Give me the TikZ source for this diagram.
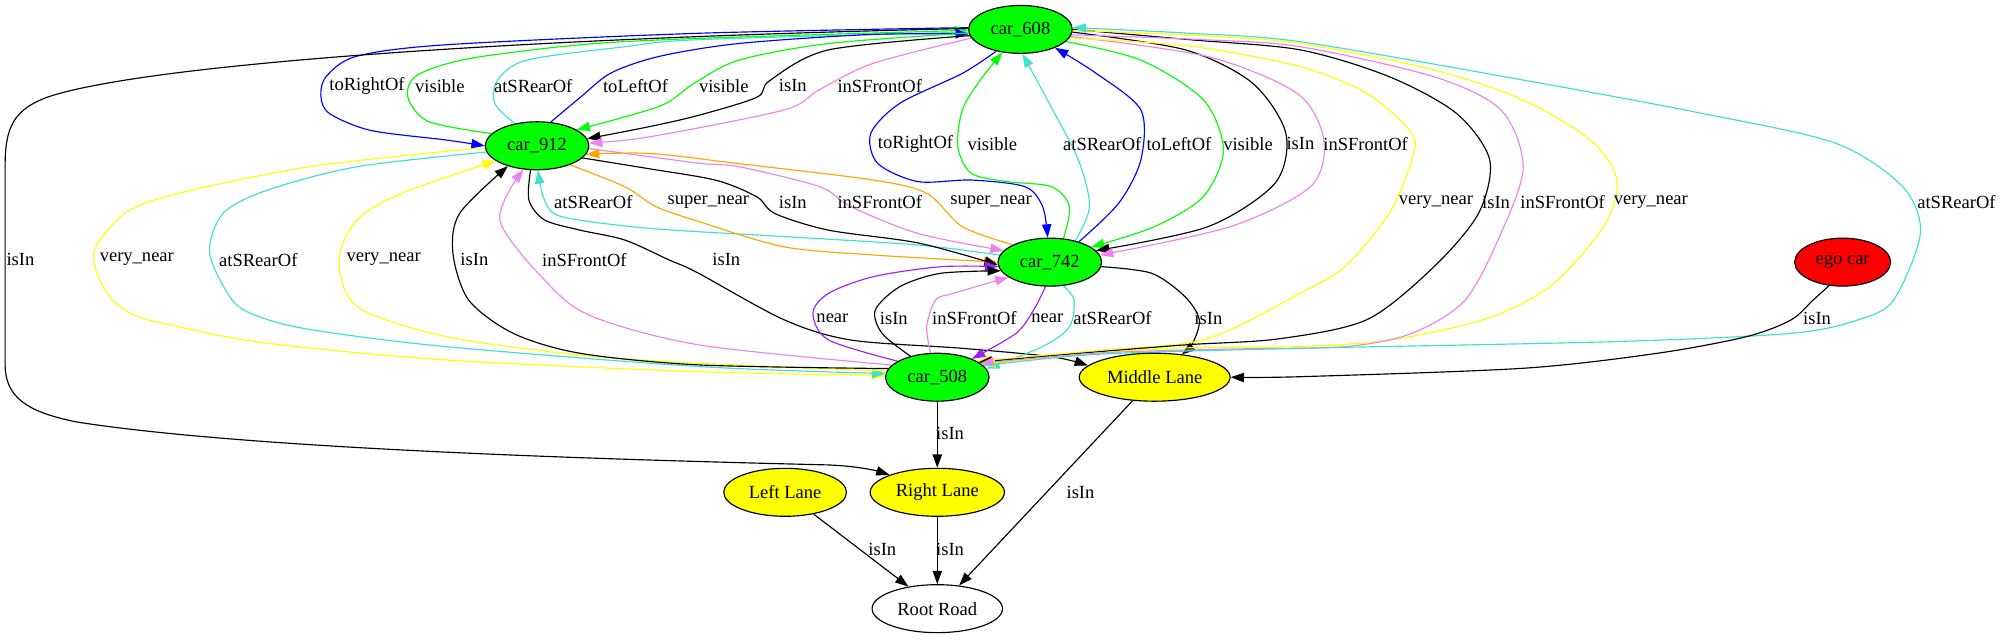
\documentclass[tikz,border=0pt]{standalone}
\usepackage{fontspec}
\setmainfont{Liberation Serif}
\usetikzlibrary{shapes.geometric,arrows.meta}
\pgfdeclarelayer{edgelayer}
\pgfsetlayers{edgelayer,main}
\definecolor{gvgreen}{HTML}{00FF00}
\definecolor{gvyellow}{HTML}{FFFF00}
\definecolor{gvblue}{HTML}{0000FF}
\definecolor{gvturq}{HTML}{40E0D0}
\definecolor{gvviolet}{HTML}{EE82EE}
\definecolor{gvorange}{HTML}{FFA500}
\definecolor{gvpurple}{HTML}{A020F0}
\definecolor{gvred}{HTML}{FF0000}
\newcommand\gvfont{\fontsize{14.5}{17}\selectfont}
\begin{document}
\begin{tikzpicture}[x=1pt,y=-1pt,
  gnode/.style={draw=black, line width=0.9pt, ellipse, minimum height=37.5pt, inner sep=0pt, font=\gvfont},
  car/.style={gnode, fill=gvgreen, minimum width=81pt},
  lane/.style={gnode, fill=gvyellow},
  gvedge/.style={line width=0.9pt, -{Triangle[length=10.4pt,width=7.3pt]}},
  lab/.style={font=\gvfont, inner sep=0pt}]
\useasboundingbox (0,0) rectangle (1568,500);
% nodes
\node[car] (c608) at (798,23) {car\_608};
\node[car] (c912) at (420,114) {car\_912};
\node[car] (c742) at (821,205) {car\_742};
\node[car] (c508) at (733,295) {car\_508};
\node[lane, minimum width=118pt] (ML) at (903,295) {Middle Lane};
\node[gnode, fill=gvred, minimum width=75pt] (ego) at (1441,205) {ego car};
\node[lane, minimum width=96pt] (LL) at (614,385) {Left Lane};
\node[lane, minimum width=105pt] (RL) at (733,385) {Right Lane};
\node[gnode, fill=white, minimum width=102pt] (RR) at (733,476) {Root Road};
\begin{pgfonlayer}{edgelayer}
\fill[white] (0,0) rectangle (1568,500);
% car_608 <-> car_912
\draw[gvedge,gvblue] plot[smooth,tension=0.5] coordinates {(c608.178) (547,26) (349,35) (279,44) (255,60) (251,76) (258,89) (290,102) (349,109.5) (c912.180)};
\draw[gvedge,gvgreen] plot[smooth,tension=0.5] coordinates {(c912.165) (335,95) (319,76) (326,59) (366,46) (454,35) (547,30) (c608.181)};
\draw[gvedge,gvturq] plot[smooth,tension=0.5] coordinates {(c912.135) (387,81) (389,63) (412,47) (489,36.5) (547,31) (c608.183)};
\draw[gvedge,gvblue] plot[smooth,tension=0.5] coordinates {(c912.60) (454,76) (478,57) (516,44) (578,34) (680,27) (c608.185)};
\draw[gvedge,gvgreen] plot[smooth,tension=0.5] coordinates {(c608.184) (648,34) (578,47) (543,65) (516,83) (c912.22)};
\draw[gvedge,black] plot[smooth,tension=0.5] coordinates {(c608.187) (648,39) (602,63) (592,76) (547,90) (508,99) (c912.8)};
\draw[gvedge,gvviolet] plot[smooth,tension=0.5] coordinates {(c608.190) (683,49.5) (641,70) (613,86) (508,107) (c912.3)};
% car_608 <-> car_742
\draw[gvedge,gvblue] plot[smooth,tension=0.5] coordinates {(c608.222) (752.6,57.4) (703.7,80.8) (681,104.3) (686.3,127.7) (717.7,142) (759.6,140.8) (801.5,146) (815.4,161.6) (c742.95)};
\draw[gvedge,gvgreen] plot[smooth,tension=0.5] coordinates {(c742.60) (836.4,161.6) (822.4,146) (787.5,142) (759.6,135.6) (749,114.7) (752.6,86) (766.6,62.6) (c608.232)};
\draw[gvedge,gvturq] plot[smooth,tension=0.5] coordinates {(c742.40) (852,161.6) (843.3,125) (819,78) (805,52) (c608.275)};
\draw[gvedge,gvblue] plot[smooth,tension=0.5] coordinates {(c742.35) (874.8,159) (892.2,125) (892.2,86) (857.3,57.4) (c608.332)};
\draw[gvedge,gvgreen] plot[smooth,tension=0.5] coordinates {(c608.345) (892.2,47) (941,78) (956.8,117.3) (941,153.8) (902.7,177.3) (c742.20)};
\draw[gvedge,black] plot[smooth,tension=0.5] coordinates {(c608.357) (927,39) (979.5,65) (1005.6,104.3) (997,143.4) (944.6,177.3) (c742.14)};
\draw[gvedge,gvviolet] plot[smooth,tension=0.5] coordinates {(c608.352) (944.6,44.3) (1014.4,73) (1035.3,109.5) (1024.8,146) (962,177.3) (c742.8)};
% car_912 <-> car_742, car_912 -> Middle Lane
\draw[gvedge,gvturq] plot[smooth,tension=0.5] coordinates {(c742.172) (717.7,191.6) (613,185) (508.3,178.6) (439.7,169.5) (425.8,156.4) (c912.272)};
\draw[gvedge,gvorange] plot[smooth,tension=0.5] coordinates {(c912.330) (488.6,146) (513,161.6) (547,173.4) (613,193) (682.8,199.4) (c742.180)};
\draw[gvedge,black] plot[smooth,tension=0.5] coordinates {(c912.345) (506,131.7) (560,141) (592,154) (606,167) (648,180) (718,190) (c742.183)};
\draw[gvedge,gvviolet] plot[smooth,tension=0.5] coordinates {(c912.357) (547,127.7) (578,130.4) (641,146) (665.4,161.6) (717.7,182.5) (c742.166)};
\draw[gvedge,gvorange] plot[smooth,tension=0.5] coordinates {(c742.155) (752.6,177.3) (724.7,151.2) (682.8,140.8) (578,128) (508.3,120) (c912.350)};
\draw[gvedge,black] plot[smooth,tension=0.5] coordinates {(c912.255) (413.6,156.4) (425.8,172) (453.7,180) (488.6,187.7) (523.5,203.4) (545,213) (613,250) (665.4,265.9) (752.6,272.4) (822.4,279) (ML.170)};
% car_912 <-> car_508
\draw[gvedge,gvyellow] plot[smooth,tension=0.5] coordinates {(c912.182) (244.3,130) (139.6,151.2) (97.7,166.8) (73.3,198) (83.8,229.4) (104.7,246.3) (139.6,255.5) (209.4,268.5) (349,281.5) (547,290.7) (c508.178)};
\draw[gvedge,gvturq] plot[smooth,tension=0.5] coordinates {(c912.187) (279.2,130.4) (209.4,148.6) (174.5,166.8) (164,198) (181.5,234.6) (202.4,247.6) (244.3,258) (349,271.1) (547,286.7) (c508.176)};
\draw[gvedge,gvyellow] plot[smooth,tension=0.5] coordinates {(c508.173) (547,284.1) (453.7,277.6) (349,263.3) (279.2,239.8) (265.2,203.3) (279.2,172) (314,151.2) (c912.200)};
\draw[gvedge,black] plot[smooth,tension=0.5] coordinates {(c508.170) (547,285.4) (453.7,276.3) (401.4,260.7) (366.5,234.6) (354.2,198) (359.5,166.8) (c912.215)};
\draw[gvedge,gvviolet] plot[smooth,tension=0.5] coordinates {(c508.165) (547,269.8) (462,247) (425.8,219) (390.9,172) (c912.240)};
% car_742 <-> car_508, car_742 -> Middle Lane
\draw[gvedge,gvpurple] plot[smooth,tension=0.5] coordinates {(c508.158) (648,265.9) (635.7,245) (648,229.4) (682.8,216.4) (735.2,208.6) (c742.185)};
\draw[gvedge,black] plot[smooth,tension=0.5] coordinates {(c508.142) (689.8,260.7) (684.5,242.4) (703.7,224.2) (735.2,213.8) (c742.190)};
\draw[gvedge,gvviolet] plot[smooth,tension=0.5] coordinates {(c508.105) (724.7,255.5) (731.7,234.6) (745.6,229.4) (c742.200)};
\draw[gvedge,gvpurple] plot[smooth,tension=0.5] coordinates {(c742.260) (808.4,242.4) (794.5,260.7) (c508.28)};
\draw[gvedge,gvturq] plot[smooth,tension=0.5] coordinates {(c742.300) (839.9,234.6) (836.4,255.5) (815.4,271) (c508.10)};
\draw[gvedge,black] plot[smooth,tension=0.5] coordinates {(c742.355) (900.6,213.7) (926.7,232) (937.9,250) (932.7,268.5) (ML.40)};
% car_608 <-> car_508
\draw[gvedge,gvyellow] plot[smooth,tension=0.5] coordinates {(c608.350) (930,36) (1016.7,52.1) (1069,73) (1104,104.3) (1104,125) (1086.5,166.8) (1051.6,208.6) (1016.7,229.4) (962,258) (927.1,268.5) (860,274) (c508.22)};
\draw[gvedge,black] plot[smooth,tension=0.5] coordinates {(c608.0) (930,31) (1016.7,39) (1086.5,60) (1138.9,88.6) (1165,125) (1156.3,166.8) (1121.4,208.6) (1069,250) (1000,265) (930,269.5) (860,275) (c508.20)};
\draw[gvedge,gvyellow] plot[smooth,tension=0.5] coordinates {(c608.359) (940,28) (1016.7,34) (1121.4,54.7) (1191.2,78.2) (1243.6,109.5) (1264.5,140.8) (1254,177.3) (1212,224.2) (1160,250) (1086.5,266) (1016.7,271) (930,272) (860,276) (c508.16)};
\draw[gvedge,gvviolet] plot[smooth,tension=0.5] coordinates {(c608.354) (940,31) (1016.7,36.5) (1121.4,60) (1173.8,86) (1191.2,130.4) (1173.8,182.5) (1145.8,234.6) (1104,260.7) (1051.6,271.1) (962,273) (860,276) (c508.18)};
\draw[gvedge,gvturq] plot[smooth,tension=0.5] coordinates {(c508.14) (860,277) (1016.7,272.4) (1261,267.2) (1400.6,260.7) (1453,250.2) (1480.9,234.6) (1501.8,182.5) (1487.9,146) (1435.5,112) (1330.8,88.6) (1191.2,62.6) (1016.7,32.6) (930,26) (c608.2)};
% ego car -> Middle Lane
\draw[gvedge,black] plot[smooth,tension=0.5] coordinates {(ego.240) (1418,234.6) (1400.6,250.2) (1365.7,263.3) (1295.9,276.3) (1191.2,288) (1016.7,294.6) (ML.0)};
% car_608 -> Right Lane
\draw[gvedge,black] (c608.179) .. controls (400,30) and (120,50) .. (40,75)
  .. controls (10,85) and (4,100) .. (4,130) -- (4,285)
  .. controls (4,310) and (20,322) .. (60,330)
  .. controls (200,352) and (500,360) .. (648,363.6)
  .. controls (670,364.5) and (685,368) .. (RL.160);
% straight edges
\draw[gvedge,black] (c508) -- (RL);
\draw[gvedge,black] (LL) -- (RR);
\draw[gvedge,black] (RL) -- (RR);
\draw[gvedge,black] (ML) -- (RR);
\end{pgfonlayer}
% labels
\node[lab] (l01) at (287,67) {toRightOf};
\node[lab] (l02) at (344,67) {visible};
\node[lab] (l03) at (417,67) {atSRearOf};
\node[lab] (l04) at (497,67) {toLeftOf};
\node[lab] (l05) at (566,67) {visible};
\node[lab] (l06) at (620,67) {isIn};
\node[lab] (l07) at (688,67) {inSFrontOf};
\node[lab] (l08) at (716,112.5) {toRightOf};
\node[lab] (l09) at (776,112.5) {visible};
\node[lab] (l10) at (862,112.5) {atSRearOf};
\node[lab] (l11) at (922,112.5) {toLeftOf};
\node[lab] (l12) at (976,112.5) {visible};
\node[lab] (l13) at (1017,112.5) {isIn};
\node[lab] (l14) at (1068,112.5) {inSFrontOf};
\node[lab] (l15) at (464,158) {atSRearOf};
\node[lab] (l16) at (554,158) {super\_near};
\node[lab] (l17) at (620,158) {isIn};
\node[lab] (l18) at (688,158) {inSFrontOf};
\node[lab] (l19) at (775,158) {super\_near};
\node[lab] (l20) at (1123,158) {very\_near};
\node[lab] (l21) at (1170,158) {isIn};
\node[lab] (l22) at (1222,158) {inSFrontOf};
\node[lab] (l23) at (1291,158) {very\_near};
\node[lab] (l24) at (1530,158) {atSRearOf};
\node[lab] (l25) at (16,203) {isIn};
\node[lab] (l26) at (107,203) {very\_near};
\node[lab] (l27) at (202,203) {atSRearOf};
\node[lab] (l28) at (300,203) {very\_near};
\node[lab] (l29) at (371,203) {isIn};
\node[lab] (l30) at (457,203) {inSFrontOf};
\node[lab] (l31) at (568,203) {isIn};
\node[lab] (l32) at (651,249) {near};
\node[lab] (l33) at (699,249) {isIn};
\node[lab] (l34) at (762,249) {inSFrontOf};
\node[lab] (l35) at (819,249) {near};
\node[lab] (l36) at (870,249) {atSRearOf};
\node[lab] (l37) at (945,249) {isIn};
\node[lab] (l38) at (1421,249) {isIn};
\node[lab] (l39) at (743,339) {isIn};
\node[lab] (l40) at (845,385) {isIn};
\node[lab] (l41) at (690,430) {isIn};
\node[lab] (l42) at (743,430) {isIn};
\end{tikzpicture}
\end{document}
